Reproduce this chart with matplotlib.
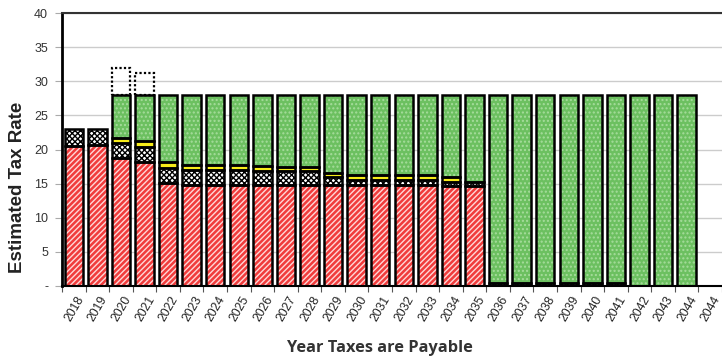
import numpy as np
import matplotlib
matplotlib.use("Agg")
from matplotlib import pyplot as plt

years = ['2018', '2019', '2020', '2021', '2022', '2023', '2024', '2025', '2026',
         '2027', '2028', '2029', '2030', '2031', '2032', '2033', '2034', '2035',
         '2036', '2037', '2038', '2039', '2040', '2041', '2042', '2043', '2044', '2044']

red = [20.5, 20.7, 18.7, 18.2, 15.1, 14.8, 14.8, 14.8, 14.8, 14.8, 14.8, 14.8, 14.8, 14.8,
       14.8, 14.8, 14.6, 14.6, 0, 0, 0, 0, 0, 0, 0, 0, 0, 0]
checker = [2.5, 2.3, 2.2, 2.1, 2.2, 2.2, 2.2, 2.2, 2.1, 2.0, 2.0, 1.2, 0.7, 0.7,
           0.7, 0.7, 0.7, 0.6, 0.5, 0.5, 0.5, 0.5, 0.5, 0.5, 0, 0, 0, 0]
yellow = [0, 0, 0.8, 0.9, 0.8, 0.7, 0.7, 0.7, 0.7, 0.7, 0.7, 0.6, 0.7, 0.7,
          0.7, 0.7, 0.6, 0, 0, 0, 0, 0, 0, 0, 0, 0, 0, 0]
green = [0, 0, 6.3, 6.8, 9.9, 10.3, 10.3, 10.3, 10.4, 10.5, 10.5, 11.4, 11.8, 11.8,
         11.8, 11.8, 12.1, 12.8, 27.5, 27.5, 27.5, 27.5, 27.5, 27.5, 28, 28, 28, 0]
extra = [0, 0, 4.0, 3.2] + [0] * 24

plt.rcParams['hatch.linewidth'] = 1.0

fig = plt.figure(figsize=(7.22, 3.58), dpi=100)
ax = fig.add_axes([62/722, 1-286/358, 660/722, 273/358])

x = np.arange(len(years))
w = 0.78

def layer(vals, bottom, face, hatch, hcol):
    vals = np.array(vals)
    m = vals > 0
    ax.bar(x[m], vals[m], w, bottom=np.array(bottom)[m], color=face, hatch=hatch,
           edgecolor=hcol, linewidth=0, zorder=2)
    ax.bar(x[m], vals[m], w, bottom=np.array(bottom)[m], fill=False,
           edgecolor='black', linewidth=1.8, zorder=3)

b = np.zeros(len(years))
layer(red, b, '#f03c3c', '//////', '#ffd8d8')
b = b + np.array(red)
layer(checker, b, 'white', 'xxxxxx', 'black')
b = b + np.array(checker)
layer(yellow, b, '#f7ec1a', None, '#f7ec1a')
b = b + np.array(yellow)
layer(green, b, '#6cc060', '....', '#a6dc9c')
b = b + np.array(green)

ex = np.array(extra)
m = ex > 0
ax.bar(x[m], ex[m], w, bottom=b[m], fill=False, edgecolor='black',
       linestyle=(0, (1, 1)), linewidth=1.6, zorder=3)

ax.set_xlim(-0.5, len(years) - 0.5)
ax.set_ylim(0, 40)
ax.set_yticks(np.arange(0, 41, 5))
ax.set_yticklabels(['-'] + [str(v) for v in range(5, 41, 5)],
                   fontfamily='Liberation Sans', fontsize=9, color='#333333')
ax.yaxis.grid(True, color='#cccccc', linewidth=1)
ax.set_axisbelow(True)

ax.set_xticks(np.arange(-0.5, len(years)), minor=False)
ax.set_xticklabels([])
ax.set_xticks(x + 0.1, minor=True)
ax.set_xticklabels(years, minor=True, rotation=60, ha='right', rotation_mode='anchor',
                   fontfamily='Liberation Sans', fontsize=8.8, color='#222222')
ax.tick_params(axis='x', which='major', length=4, color='#555555')
ax.tick_params(axis='x', which='minor', length=0, pad=6)
ax.tick_params(axis='y', length=5, color='#aaaaaa', pad=5)

ax.spines['left'].set_linewidth(2)
ax.spines['left'].set_color('black')
ax.spines['bottom'].set_linewidth(1.5)
ax.spines['bottom'].set_color('black')
ax.spines['right'].set_visible(False)
ax.spines['top'].set_linewidth(1.5)
ax.spines['top'].set_color('#333333')

fig.text(18/722, 1-187/358, 'Estimated Tax Rate', rotation=90, ha='center', va='center',
         fontfamily='Liberation Sans', fontweight='bold', fontsize=13.5, color='#222222')
fig.text(380/722, 1-348/358, 'Year Taxes are Payable', ha='center', va='center',
         fontfamily='Open Sans', fontweight='bold', fontsize=11.8, color='#333333')

fig.savefig('out.png', dpi=100)
